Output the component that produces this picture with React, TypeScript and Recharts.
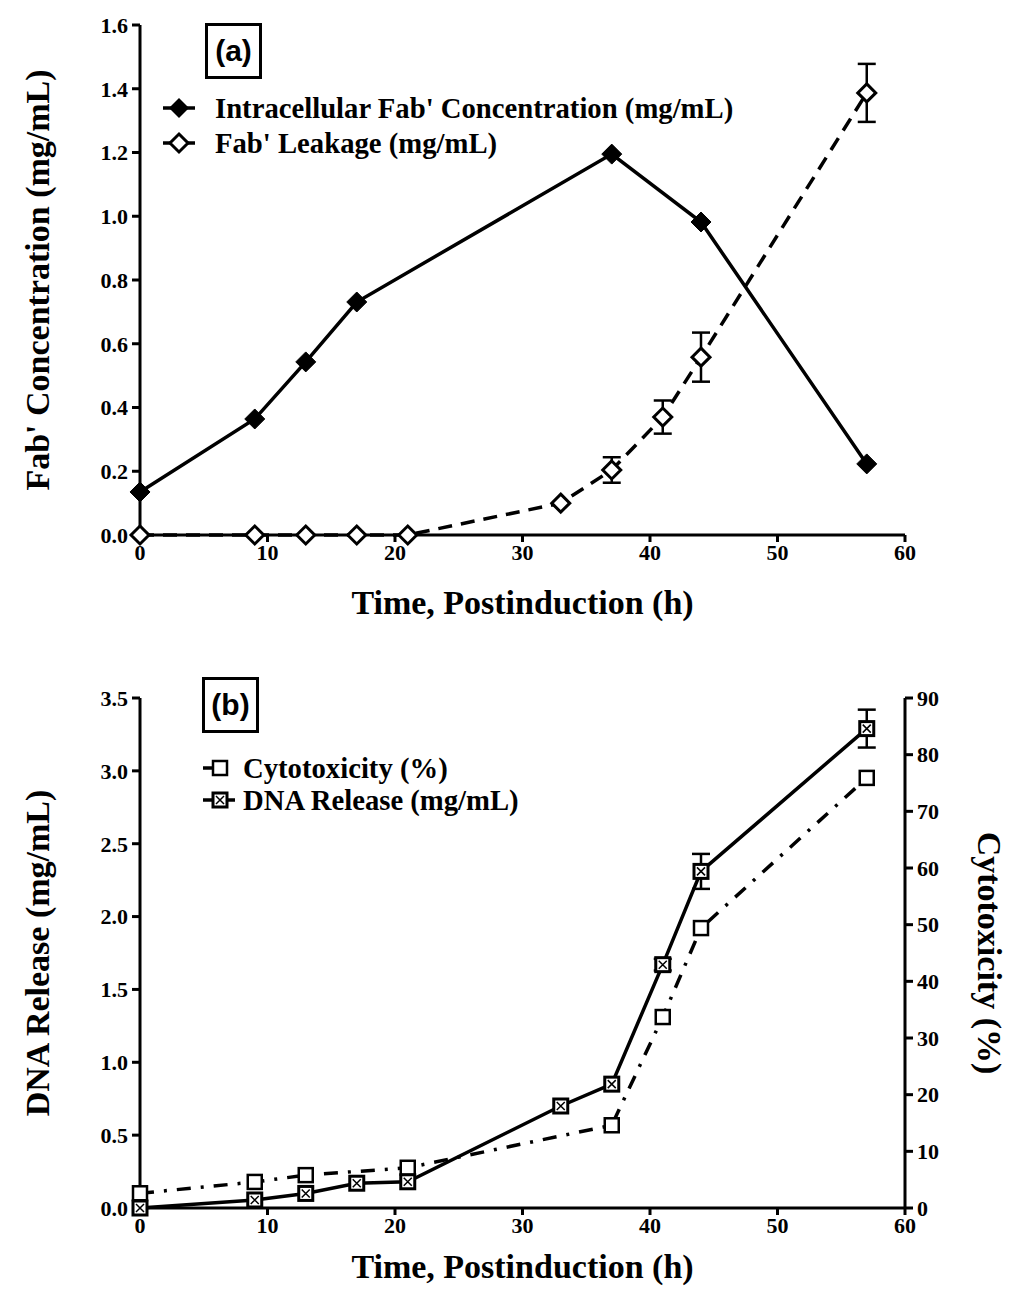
import React from 'react';
import { LineChart, Line, XAxis, YAxis, ErrorBar } from 'recharts';

// panel (a)
const timeTicks = [0, 10, 20, 30, 40, 50, 60];
const fabTicks = [0, 0.2, 0.4, 0.6, 0.8, 1.0, 1.2, 1.4, 1.6];

const intracellularTime = [0, 9, 13, 17, 37, 44, 57];
const intracellularFab = [0.135, 0.364, 0.543, 0.731, 1.195, 0.982, 0.223];

const leakageTime = [0, 9, 13, 17, 21, 33, 37, 41, 44, 57];
const leakageFab = [0, 0, 0, 0, 0, 0.1, 0.204, 0.37, 0.558, 1.387];
const leakageErr = [0, 0, 0, 0, 0, 0, 0.04, 0.052, 0.077, 0.091];

// panel (b)
const dnaTicks = [0, 0.5, 1.0, 1.5, 2.0, 2.5, 3.0, 3.5];
const cytoTicks = [0, 10, 20, 30, 40, 50, 60, 70, 80, 90];

const dnaTime = [0, 9, 13, 17, 21, 33, 37, 41, 44, 57];
const dnaRelease = [0, 0.055, 0.1, 0.17, 0.18, 0.7, 0.85, 1.67, 2.31, 3.29];
const dnaErr = [0, 0, 0, 0, 0, 0, 0, 0.04, 0.12, 0.13];

const cytoTime = [0, 9, 13, 21, 37, 41, 44, 57];
const cytotoxicity = [2.6, 4.6, 5.8, 7.1, 14.6, 33.7, 49.4, 75.9];

const serif = '"Liberation Serif", "Times New Roman", serif';
const sans = '"Liberation Sans", Arial, sans-serif';

const intracellularData = intracellularTime.map((t, i) => ({ t, v: intracellularFab[i] }));
const leakageData = leakageTime.map((t, i) => ({ t, v: leakageFab[i], err: leakageErr[i] }));
const dnaData = dnaTime.map((t, i) => ({ t, v: dnaRelease[i], err: dnaErr[i] }));
const cytoData = cytoTime.map((t, i) => ({ t, v: cytotoxicity[i] }));

const diamondPath = (cx: number, cy: number, r: number) =>
  `M${cx},${cy - r}L${cx + r},${cy}L${cx},${cy + r}L${cx - r},${cy}Z`;

const filledDiamond = (p: any) => (
  <path key={`fd-${p.index}`} d={diamondPath(p.cx, p.cy, 10)} fill="#000" stroke="#000" strokeWidth={1} />
);

const openDiamond = (p: any) => (
  <path key={`od-${p.index}`} d={diamondPath(p.cx, p.cy, 9)} fill="#fff" stroke="#000" strokeWidth={3} />
);

const openSquare = (p: any) => (
  <rect key={`os-${p.index}`} x={p.cx - 7} y={p.cy - 7} width={14} height={14} fill="#fff" stroke="#000" strokeWidth={2.5} />
);

const crossSquare = (p: any) => (
  <g key={`cs-${p.index}`}>
    <rect x={p.cx - 7} y={p.cy - 7} width={14} height={14} fill="#fff" stroke="#000" strokeWidth={3} />
    <path d={`M${p.cx - 4},${p.cy - 4}L${p.cx + 4},${p.cy + 4}M${p.cx + 4},${p.cy - 4}L${p.cx - 4},${p.cy + 4}`} stroke="#000" strokeWidth={1.5} />
  </g>
);

const axisLine = { stroke: '#000', strokeWidth: 3 };
const tickFont = { fill: '#000', fontSize: 22, fontWeight: 'bold', fontFamily: serif };
const titleStyle = { fill: '#000', fontSize: 34, fontWeight: 'bold', fontFamily: serif };

const PanelTag = ({ text, left, top }: { text: string; left: number; top: number }) => (
  <div
    style={{
      position: 'absolute', left, top, width: 51, height: 50, border: '3px solid #000',
      fontFamily: sans, fontWeight: 'bold', fontSize: 30, lineHeight: '50px', textAlign: 'center',
    }}
  >
    {text}
  </div>
);

const LegendRow = ({ top, left, textLeft, children, label }: any) => (
  <div style={{ position: 'absolute', top, left, height: 30, display: 'flex', alignItems: 'center' }}>
    <svg width={textLeft - left} height={30}>{children}</svg>
    <span style={{ fontFamily: serif, fontWeight: 'bold', fontSize: 28.7, whiteSpace: 'nowrap' }}>{label}</span>
  </div>
);

const App = () => {
  return (
    <div style={{ position: 'relative', width: 1009, height: 1289, background: '#fff' }}>
      <style>{'body{margin:0}'}</style>

      <div style={{ position: 'absolute', left: 0, top: 0 }}>
        <LineChart width={1009} height={625} margin={{ top: 25, right: 104, bottom: 0, left: 0 }}>
          <XAxis
            type="number" dataKey="t" domain={[0, 60]} ticks={timeTicks} interval={0}
            axisLine={axisLine} tickLine={axisLine} tickSize={7} tick={tickFont} height={90}
            label={{ value: 'Time, Postinduction (h)', position: 'center', dy: 22, style: titleStyle }}
          />
          <YAxis
            type="number" domain={[0, 1.6]} ticks={fabTicks} interval={0} width={140}
            axisLine={axisLine} tickLine={axisLine} tickSize={8} tickMargin={4} tick={tickFont}
            tickFormatter={(v: number) => v.toFixed(1)}
            label={{ value: "Fab' Concentration (mg/mL)", angle: -90, position: 'center', dx: -33, style: titleStyle }}
          />
          <Line data={leakageData} dataKey="v" type="linear" stroke="#000" strokeWidth={3.5}
            strokeDasharray="14 9" dot={openDiamond} isAnimationActive={false}>
            <ErrorBar dataKey="err" width={9} stroke="#000" strokeWidth={2.5} />
          </Line>
          <Line data={intracellularData} dataKey="v" type="linear" stroke="#000" strokeWidth={3.5}
            dot={filledDiamond} isAnimationActive={false} />
        </LineChart>
      </div>

      <PanelTag text="(a)" left={205} top={23} />
      <LegendRow top={93} left={160} textLeft={215} label="Intracellular Fab' Concentration (mg/mL)">
        <line x1={3} y1={15} x2={35} y2={15} stroke="#000" strokeWidth={3.5} />
        <path d={diamondPath(19, 15, 10)} fill="#000" />
      </LegendRow>
      <LegendRow top={128} left={160} textLeft={215} label="Fab' Leakage (mg/mL)">
        <line x1={3} y1={15} x2={35} y2={15} stroke="#000" strokeWidth={3.5} />
        <path d={diamondPath(19, 15, 9)} fill="#fff" stroke="#000" strokeWidth={3} />
      </LegendRow>

      <div style={{ position: 'absolute', left: 0, top: 640 }}>
        <LineChart width={1009} height={649} margin={{ top: 58, right: 0, bottom: 0, left: 0 }}>
          <XAxis
            type="number" dataKey="t" domain={[0, 60]} ticks={timeTicks} interval={0}
            axisLine={axisLine} tickLine={axisLine} tickSize={7} tick={tickFont} height={81}
            label={{ value: 'Time, Postinduction (h)', position: 'center', dy: 17, style: titleStyle }}
          />
          <YAxis
            yAxisId="left" type="number" domain={[0, 3.5]} ticks={dnaTicks} interval={0} width={140}
            axisLine={axisLine} tickLine={axisLine} tickSize={8} tickMargin={4} tick={tickFont}
            tickFormatter={(v: number) => v.toFixed(1)}
            label={{ value: 'DNA Release (mg/mL)', angle: -90, position: 'center', dx: -33, style: titleStyle }}
          />
          <YAxis
            yAxisId="right" orientation="right" type="number" domain={[0, 90]} ticks={cytoTicks} interval={0} width={104}
            axisLine={axisLine} tickLine={axisLine} tickSize={8} tickMargin={4} tick={tickFont}
            label={{ value: 'Cytotoxicity (%)', angle: 90, position: 'center', dx: 33, style: titleStyle }}
          />
          <Line yAxisId="right" data={cytoData} dataKey="v" type="linear" stroke="#000" strokeWidth={3.5}
            strokeDasharray="14 10 3 10" dot={openSquare} isAnimationActive={false} />
          <Line yAxisId="left" data={dnaData} dataKey="v" type="linear" stroke="#000" strokeWidth={3.5}
            dot={crossSquare} isAnimationActive={false}>
            <ErrorBar dataKey="err" width={9} stroke="#000" strokeWidth={2.5} />
          </Line>
        </LineChart>
      </div>

      <PanelTag text="(b)" left={202} top={677} />
      <LegendRow top={753} left={200} textLeft={243} label="Cytotoxicity (%)">
        <line x1={3} y1={15} x2={15} y2={15} stroke="#000" strokeWidth={3.5} />
        <rect x={13} y={8} width={14} height={14} fill="#fff" stroke="#000" strokeWidth={2.5} />
      </LegendRow>
      <LegendRow top={785} left={200} textLeft={243} label="DNA Release (mg/mL)">
        <line x1={3} y1={15} x2={35} y2={15} stroke="#000" strokeWidth={3.5} />
        <rect x={13} y={8} width={14} height={14} fill="#fff" stroke="#000" strokeWidth={3} />
        <path d="M16,11L24,19M24,11L16,19" stroke="#000" strokeWidth={1.5} />
      </LegendRow>
    </div>
  );
};

export default App;
